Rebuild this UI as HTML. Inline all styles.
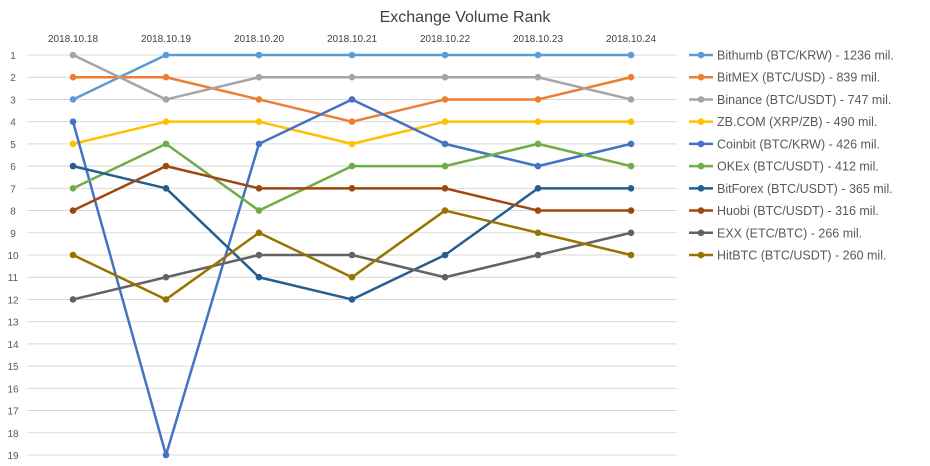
<!DOCTYPE html>
<html><head><meta charset="utf-8">
<style>
body{margin:0;background:#fff;font-family:"Liberation Sans",Arial,sans-serif;}
svg{display:block}
</style></head>
<body>
<svg id="chart" width="930" height="466" xmlns="http://www.w3.org/2000/svg">
<text x="465" y="22" text-anchor="middle" font-size="16" fill="#404040" font-family="Liberation Sans, Arial, sans-serif">Exchange Volume Rank</text>
<g id="grid"></g><g id="xlabels"></g><g id="ylabels"></g><g id="series"></g><g id="legend"></g>
</svg>
<script>
const categories = ["2018.10.18","2018.10.19","2018.10.20","2018.10.21","2018.10.22","2018.10.23","2018.10.24"];
const seriesNames = ["Bithumb (BTC/KRW) - 1236 mil.","BitMEX (BTC/USD) - 839 mil.","Binance (BTC/USDT) - 747 mil.","ZB.COM (XRP/ZB) - 490 mil.","Coinbit (BTC/KRW) - 426 mil.","OKEx (BTC/USDT) - 412 mil.","BitForex (BTC/USDT) - 365 mil.","Huobi (BTC/USDT) - 316 mil.","EXX (ETC/BTC) - 266 mil.","HitBTC (BTC/USDT) - 260 mil."];
const bithumb = [3,1,1,1,1,1,1];
const bitmex = [2,2,3,4,3,3,2];
const binance = [1,3,2,2,2,2,3];
const zbcom = [5,4,4,5,4,4,4];
const coinbit = [4,19,5,3,5,6,5];
const okex = [7,5,8,6,6,5,6];
const bitforex = [6,7,11,12,10,7,7];
const huobi = [8,6,7,7,7,8,8];
const exx = [12,11,10,10,11,10,9];
const hitbtc = [10,12,9,11,8,9,10];
const yTicks = [1,2,3,4,5,6,7,8,9,10,11,12,13,14,15,16,17,18,19];
const allSeries = [bithumb,bitmex,binance,zbcom,coinbit,okex,bitforex,huobi,exx,hitbtc];
const colors = ["#5B9BD5","#ED7D31","#A5A5A5","#FFC000","#4472C4","#70AD47","#255E91","#9E480E","#636363","#997300"];
const NS="http://www.w3.org/2000/svg";
function xs(i){return 73+i*93;}
function ys(v){return 55+(v-1)*(400/18);}
function mk(tag,attrs,parent){const e=document.createElementNS(NS,tag);for(const k in attrs)e.setAttribute(k,attrs[k]);parent.appendChild(e);return e;}
const grid=document.getElementById('grid'),xl=document.getElementById('xlabels'),yl=document.getElementById('ylabels'),sg=document.getElementById('series'),lg=document.getElementById('legend');
yTicks.forEach(t=>{
  const l=mk('line',{x1:27,x2:677,y1:ys(t),y2:ys(t),stroke:'#D9D9D9','stroke-width':1},grid);
  
  
  const tx=mk('text',{x:13,y:ys(t)+4,'text-anchor':'middle','font-size':10,fill:'#595959'},yl);
  tx.textContent=t;
  
  
});
categories.forEach((c,i)=>{
  const tx=mk('text',{x:xs(i),y:42,'text-anchor':'middle','font-size':10,fill:'#404040'},xl);
  tx.textContent=c;
  
  
});
allSeries.forEach((s,si)=>{
  const g=mk('g',{},sg);
  
  
  mk('polyline',{points:s.map((v,i)=>xs(i)+','+ys(v)).join(' '),fill:'none',stroke:colors[si],'stroke-width':2.5,'stroke-linejoin':'round'},g);
  s.forEach((v,i)=>{
    const c=mk('circle',{cx:xs(i),cy:ys(v),r:3.3,fill:colors[si]},g);
    
    
  });
  const y=ys(si+1);
  const le=mk('g',{},lg);
  
  
  mk('line',{x1:689,x2:713,y1:y,y2:y,stroke:colors[si],'stroke-width':2.5},le);
  mk('circle',{cx:701,cy:y,r:3.3,fill:colors[si]},le);
  const tx=mk('text',{x:717,y:y+4.5,'font-size':12.5,fill:'#595959'},le);
  tx.textContent=seriesNames[si];
});
</script>
</body></html>
